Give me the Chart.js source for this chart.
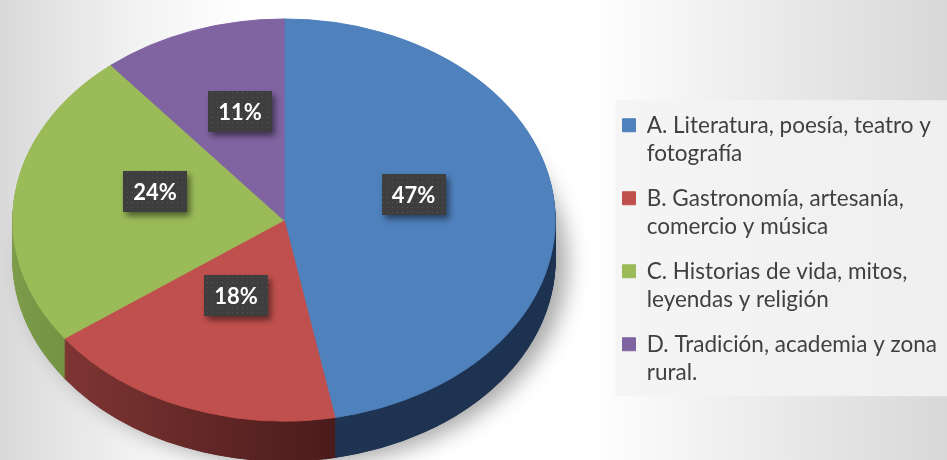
<!DOCTYPE html>
<html><head><meta charset="utf-8">
<script src="https://cdn.jsdelivr.net/npm/chart.js@4/dist/chart.umd.min.js"></script>
<style>
html,body{margin:0;padding:0;}
body{width:947px;height:460px;overflow:hidden;background:linear-gradient(to right,#d9d9d9 0%,#f2f2f2 14%,#ffffff 26%,#ffffff 62%,#ececec 80%,#d8d8d8 100%);}
#wrap{position:relative;width:947px;height:460px;}
</style></head><body><div id="wrap"><canvas id="c" width="947" height="460"></canvas></div>
<script>
// ---- data ----
const categories = [
  ['A. Literatura, poesía, teatro y', 'fotografía'],
  ['B. Gastronomía, artesanía,', 'comercio y música'],
  ['C. Historias de vida, mitos,', 'leyendas y religión'],
  ['D. Tradición, academia y zona', 'rural.']
];
const values = [47, 18, 24, 11];

// ---- style ----
const topColors = ['#4f81bd', '#c0504d', '#9bbb59', '#8064a2'];
const sideLight = ['#1f3553', '#7e3533', '#7c9c4a', '#5a4478'];
const sideDark  = ['#1d3150', '#4a1b1b', '#6c8b3d', '#4e3a6a'];
const PIE = {cx: 284, cy: 220, rx: 271, ry: 201, depth: 40};
const LABEL_F = 0.48;
const LEGEND_FONT = {family: 'Lato', size: 22.5, lineHeight: '28px'};

function pieGeom(chart) {
  const el = chart.getDatasetMeta(0).data[0];
  const p = el.getProps(['x', 'y', 'outerRadius'], true);
  return {x0: p.x, y0: p.y, R: p.outerRadius, sx: PIE.rx / p.outerRadius, sy: PIE.ry / p.outerRadius};
}
function applyT(ctx, g, dy) {
  ctx.translate(PIE.cx, PIE.cy + dy);
  ctx.scale(g.sx, g.sy);
  ctx.translate(-g.x0, -g.y0);
}

// dotted pattern for label boxes
const pat = document.createElement('canvas');
pat.width = 5; pat.height = 5;
(function(){ const p = pat.getContext('2d'); p.fillStyle = '#3e3e3e'; p.fillRect(0,0,5,5); p.fillStyle = '#575757'; p.fillRect(2,2,1,1); })();

const pie3d = {
  id: 'pie3d',
  beforeDraw(chart) {
    const lg = chart.legend;
    if (!lg || !lg.legendHitBoxes || !lg.legendHitBoxes.length) return;
    const hb = lg.legendHitBoxes;
    const ctx = chart.ctx;
    const half = LEGEND_FONT.size / 2;
    const top = hb[0].top + half - 25;
    const bottom = hb[hb.length - 1].top + half + 28 + 24;
    const left = hb[0].left - 7;
    ctx.save();
    ctx.fillStyle = 'rgba(243,243,243,0.85)';
    ctx.fillRect(left, top, chart.width - left, bottom - top);
    ctx.restore();
  },
  beforeDatasetDraw(chart) {
    const ctx = chart.ctx;
    const g = pieGeom(chart);
    const meta = chart.getDatasetMeta(0);
    // drop shadow
    ctx.save();
    ctx.shadowColor = 'rgba(0,0,0,0.35)';
    ctx.shadowBlur = 22;
    ctx.shadowOffsetX = 12;
    ctx.shadowOffsetY = 4;
    ctx.save(); applyT(ctx, g, PIE.depth);
    ctx.beginPath(); ctx.arc(g.x0, g.y0, g.R, 0, Math.PI * 2);
    ctx.restore();
    ctx.fillStyle = '#777';
    ctx.fill();
    ctx.restore();
    // side gradients in chart coords
    const grads = meta.data.map((el, i) => {
      const p = el.getProps(['startAngle', 'endAngle'], true);
      let mn = 1, mx = -1;
      for (let k = 0; k <= 60; k++) {
        const a = p.startAngle + (p.endAngle - p.startAngle) * k / 60;
        const c = Math.cos(a); mn = Math.min(mn, c); mx = Math.max(mx, c);
      }
      const gr = ctx.createLinearGradient(g.x0 + g.R * mn, 0, g.x0 + g.R * mx, 0);
      gr.addColorStop(0, sideLight[i]);
      gr.addColorStop(1, sideDark[i]);
      return gr;
    });
    for (let d = PIE.depth; d >= 1; d--) {
      ctx.save();
      applyT(ctx, g, d);
      meta.data.forEach((el, i) => {
        const fake = Object.create(el);
        fake.options = Object.assign({}, el.options, {backgroundColor: grads[i], borderColor: grads[i]});
        Object.getPrototypeOf(el).draw.call(fake, ctx);
      });
      ctx.restore();
    }
    ctx.save();
    applyT(ctx, g, 0);
  },
  afterDatasetDraw(chart) {
    const ctx = chart.ctx;
    ctx.restore();
    const g = pieGeom(chart);
    const meta = chart.getDatasetMeta(0);
    ctx.save();
    ctx.font = 'bold 22px Lato';
    ctx.textAlign = 'center';
    ctx.textBaseline = 'middle';
    meta.data.forEach((el, i) => {
      const p = el.getProps(['x', 'y', 'startAngle', 'endAngle', 'outerRadius'], true);
      const mid = (p.startAngle + p.endAngle) / 2;
      const px = p.x + Math.cos(mid) * p.outerRadius * LABEL_F;
      const py = p.y + Math.sin(mid) * p.outerRadius * LABEL_F;
      const sx = PIE.cx + (px - g.x0) * g.sx;
      let sy = PIE.cy + (py - g.y0) * g.sy;
      sy += -16 + 0.02 * (sy - PIE.cy); // perspective approximation
      const txt = values[i] + '%';
      const w = ctx.measureText(txt).width + 20;
      const h = 41;
      ctx.save();
      ctx.shadowColor = 'rgba(0,0,0,0.5)';
      ctx.shadowBlur = 6; ctx.shadowOffsetX = 3; ctx.shadowOffsetY = 4;
      ctx.fillStyle = ctx.createPattern(pat, 'repeat');
      ctx.fillRect(Math.round(sx - w / 2), Math.round(sy - h / 2), Math.round(w), h);
      ctx.restore();
      ctx.fillStyle = '#ffffff';
      ctx.fillText(txt, sx, sy + 1);
    });
    ctx.restore();
  }
};

// legend right padding so that the legend sits at the right edge
const mctx = document.createElement('canvas').getContext('2d');
mctx.font = LEGEND_FONT.size + 'px ' + LEGEND_FONT.family;
const tw = mctx.measureText(categories.map(c => c[0]).reduce((a, b) => a.length > b.length ? a : b)).width;
const legendLeftTarget = 615;
const padRight = Math.max(0, 947 - legendLeftTarget - (17 + 13 + LEGEND_FONT.size / 2 + tw + 10));

new Chart(document.getElementById('c'), {
  type: 'pie',
  data: {
    labels: categories,
    datasets: [{
      data: values,
      backgroundColor: topColors,
      borderColor: topColors,
      borderWidth: 1,
      clip: false
    }]
  },
  options: {
    responsive: false,
    devicePixelRatio: 1,
    animation: false,
    layout: {padding: {top: 43, bottom: 0, left: 0, right: padRight}},
    plugins: {
      legend: {
        position: 'right',
        align: 'center',
        labels: {
          boxWidth: 13,
          boxHeight: 13,
          padding: 17,
          color: '#404040',
          font: LEGEND_FONT
        }
      },
      tooltip: {enabled: false}
    }
  },
  plugins: [pie3d]
});
</script>
</body></html>
